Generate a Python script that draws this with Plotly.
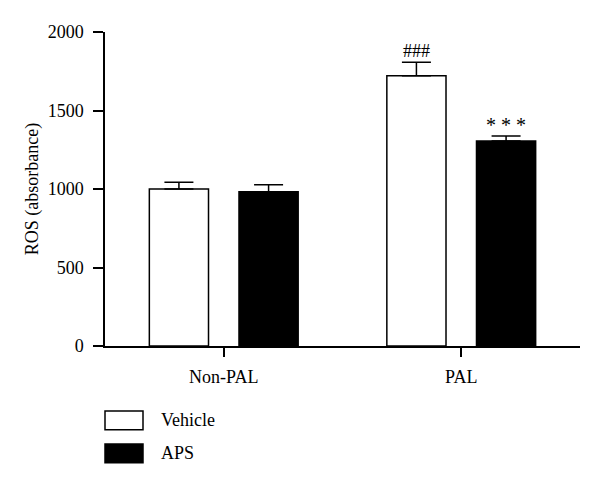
import plotly.graph_objects as go

categories = ["Non-PAL", "PAL"]
vehicle = [1000, 1722]
vehicle_err = [43, 85]
aps = [983, 1306]
aps_err = [44, 32]
sig_vehicle = ["", "###"]
sig_aps = ["", "* * *"]
series_names = ["Vehicle", "APS"]
yticks = [0, 500, 1000, 1500, 2000]

FONT = "Liberation Serif"
BARGAP = 0.245
BARGROUPGAP = 0.34
slot = (1 - BARGAP) / 2

fig = go.Figure()
fig.add_trace(go.Bar(
    x=categories, y=vehicle, name=series_names[0],
    marker=dict(color="white", line=dict(color="black", width=1.5)),
    error_y=dict(type="data", array=vehicle_err, arrayminus=[0] * len(vehicle_err),
                 symmetric=False, color="black", thickness=1.5, width=14.5),
    showlegend=False,
))
fig.add_trace(go.Bar(
    x=categories, y=aps, name=series_names[1],
    marker=dict(color="black", line=dict(color="black", width=1.5)),
    error_y=dict(type="data", array=aps_err, arrayminus=[0] * len(aps_err),
                 symmetric=False, color="black", thickness=1.5, width=14.5),
    showlegend=False,
))

annotations = []
for i, (v, e, s) in enumerate(zip(vehicle, vehicle_err, sig_vehicle)):
    if s:
        annotations.append(dict(x=i - slot / 2, y=v + e, xref="x", yref="y", text=s,
                                showarrow=False, yanchor="bottom", yshift=-1,
                                font=dict(family=FONT, size=18, color="black")))
for i, (v, e, s) in enumerate(zip(aps, aps_err, sig_aps)):
    if s:
        annotations.append(dict(x=i + slot / 2, y=v + e, xref="x", yref="y", text=s,
                                showarrow=False, yanchor="bottom", yshift=-2,
                                font=dict(family=FONT, size=20, color="black")))

# legend drawn manually (large swatches)
legend_fill = ["white", "black"]
shapes = []
box_top = [-0.207, -0.312]
box_h = 0.06
for name, fill, top in zip(series_names, legend_fill, box_top):
    shapes.append(dict(type="rect", xref="paper", yref="paper", x0=0.0, x1=0.08,
                       y0=top - box_h, y1=top, fillcolor=fill,
                       line=dict(color="black", width=1.5)))
    annotations.append(dict(x=0.113, y=top - box_h / 2, xref="paper", yref="paper",
                            text=name, showarrow=False, xanchor="left", yanchor="middle",
                            font=dict(family=FONT, size=18, color="black")))

fig.update_layout(
    width=600, height=487,
    margin=dict(l=97, r=28, t=24, b=149),
    paper_bgcolor="white", plot_bgcolor="white",
    barmode="group", bargap=BARGAP, bargroupgap=BARGROUPGAP,
    font=dict(family=FONT, size=18, color="black"),
    annotations=annotations, shapes=shapes,
    xaxis=dict(range=[-0.5, 1.5], showline=True, linecolor="black", linewidth=1.5,
               ticks="outside", ticklen=9, tickwidth=1.5, tickcolor="black",
               showgrid=False, zeroline=False, tickfont=dict(family=FONT, size=18),
               ticklabelstandoff=5),
    yaxis=dict(range=[0, 2000], tickvals=yticks, showline=True, linecolor="black",
               linewidth=1.5, ticks="outside", ticklen=10, tickwidth=1.5,
               tickcolor="black", showgrid=False, zeroline=False,
               tickfont=dict(family=FONT, size=18), ticklabelstandoff=6,
               title=dict(text="ROS (absorbance)", font=dict(family=FONT, size=18),
                          standoff=4)),
)

fig.write_html("out.html")
